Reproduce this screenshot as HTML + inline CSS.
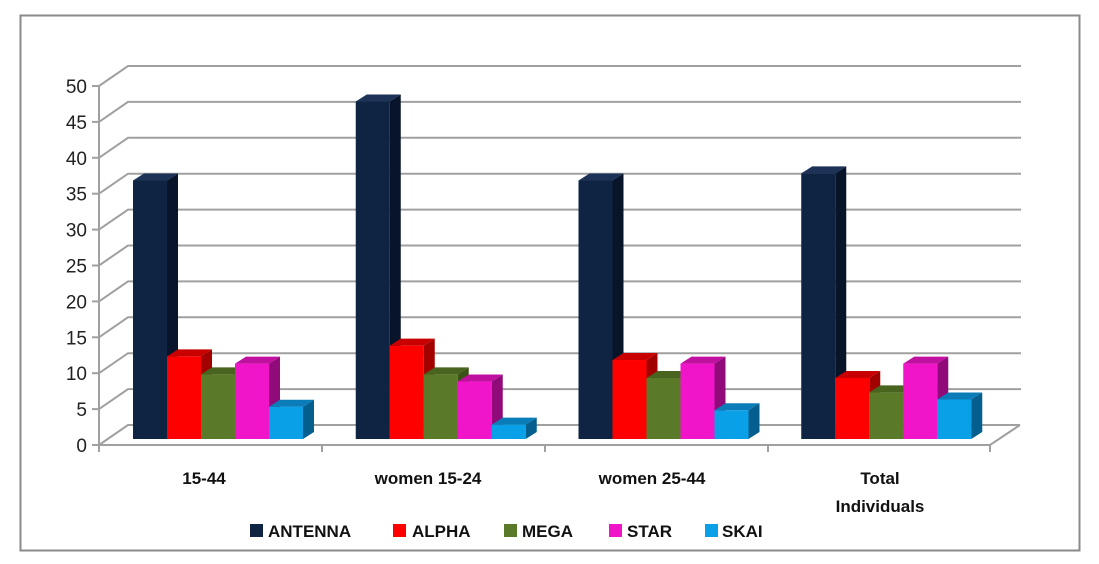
<!DOCTYPE html>
<html><head><meta charset="utf-8"><style>
html,body{margin:0;padding:0;background:#fff;}
svg{display:block;font-family:"Liberation Sans",Arial,sans-serif;}
</style></head><body>
<svg id="c" width="1099" height="564" viewBox="0 0 1099 564" xmlns="http://www.w3.org/2000/svg">
<rect x="0" y="0" width="1099" height="564" fill="#fff"/>
<rect x="20.5" y="15.5" width="1059" height="535" fill="#fff" stroke="#8a8a8a" stroke-width="2"/>
<g id="grid" stroke="#a0a0a0" stroke-width="2" fill="none"></g>
<g id="ax" font-size="19" fill="#222" text-anchor="end"></g>
<g id="bars"></g>
<g font-size="17" font-weight="bold" fill="#111" text-anchor="middle">
<text x="204" y="484">15-44</text>
<text x="428" y="484">women 15-24</text>
<text x="652" y="484">women 25-44</text>
<text x="880" y="484">Total</text>
<text x="880" y="512">Individuals</text>
</g>
<g font-size="17" font-weight="bold" fill="#111">
<rect x="250" y="524" width="13" height="13" fill="#0f2343"/><text x="268" y="537">ANTENNA</text>
<rect x="393" y="524" width="13" height="13" fill="#ff0000"/><text x="412" y="537">ALPHA</text>
<rect x="504" y="524" width="13" height="13" fill="#5a7a2a"/><text x="522" y="537">MEGA</text>
<rect x="609" y="524" width="13" height="13" fill="#f015c8"/><text x="627" y="537">STAR</text>
<rect x="705" y="524" width="13" height="13" fill="#0aa0e8"/><text x="722" y="537">SKAI</text>
</g>
</svg>
<script>
var NS="http://www.w3.org/2000/svg";
function el(p,t,a){var e=document.createElementNS(NS,t);for(var k in a)e.setAttribute(k,a[k]);p.appendChild(e);return e;}
var g=document.getElementById('grid'),ax=document.getElementById('ax'),b=document.getElementById('bars');
var s=7.18;
for(var v=0;v<=50;v+=5){
 var yf=445-v*s, yb=425-v*s;
 el(g,'polyline',{points:(99)+','+yf+' '+128+','+yb+' '+(v==0?1020:1021)+','+yb});
 el(g,'line',{x1:92,y1:yf,x2:99,y2:yf});
 var t=el(ax,'text',{x:87,y:yf+7});t.textContent=v;
}
el(g,'line',{x1:99,y1:445-50*s,x2:99,y2:445});
el(g,'polyline',{points:'99,445 990,445 1020,425'});
[99,322,545,768,990].forEach(function(x){el(g,'line',{x1:x,y1:445,x2:x,y2:452});});
var cols=[['#0f2343','#1c3256','#07142a'],['#ff0000','#c80000','#a30000'],['#5a7a2a','#48641f','#3a5216'],['#f015c8','#c010a0','#900a7a'],['#0aa0e8','#0a7cb8','#055f8e']];
var data=[[36,11.5,9,10.5,4.5],[47,13,9,8,2],[36,11,8.5,10.5,4],[37,8.5,6.5,10.5,5.5]];
var base=439,w=34,dx=11,dy=7;
data.forEach(function(gr,gi){
 var x0=133+gi*222.75;
 gr.forEach(function(val,i){
  var x=x0+i*w,t=base-val*s,c=cols[i];
  el(b,'rect',{x:x,y:t,width:w,height:base-t,fill:c[0]});
  el(b,'polygon',{points:x+','+t+' '+(x+dx)+','+(t-dy)+' '+(x+w+dx)+','+(t-dy)+' '+(x+w)+','+t,fill:c[1]});
  el(b,'polygon',{points:(x+w)+','+t+' '+(x+w+dx)+','+(t-dy)+' '+(x+w+dx)+','+(base-dy)+' '+(x+w)+','+base,fill:c[2]});
 });
});
</script>
</body></html>
